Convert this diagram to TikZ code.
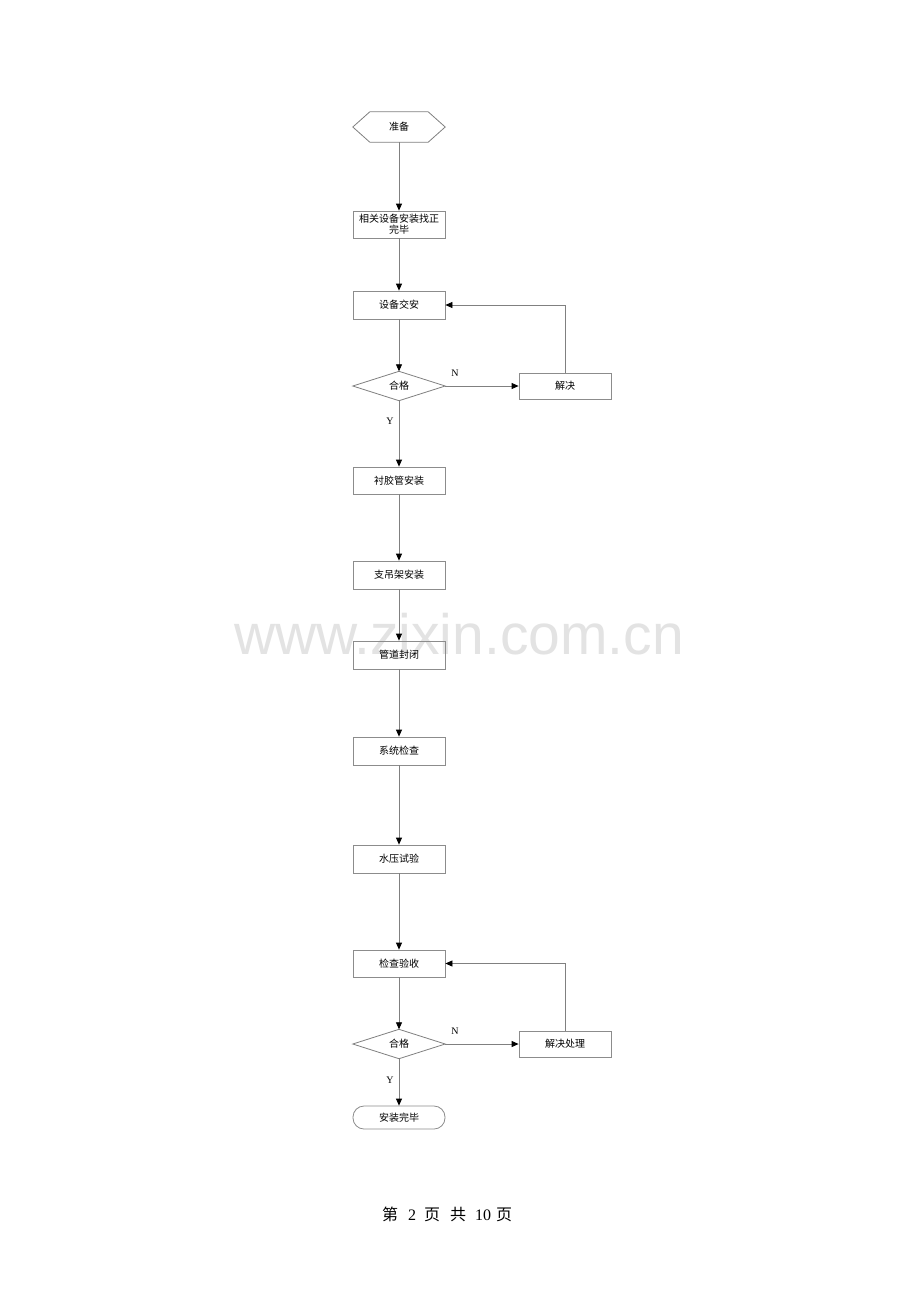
\documentclass[tikz,border=0pt]{standalone}
\usepackage{fontspec}
\setmainfont{Liberation Serif}
\newfontfamily\cjk{Noto Sans CJK SC}
\newfontfamily\wmfont{Liberation Sans}
\usetikzlibrary{arrows.meta}
\begin{document}
\begin{tikzpicture}[x=1pt,y=-1pt,
  line/.style={draw=black!50, line width=0.8pt},
  arr/.style={line, -{Triangle[length=7pt,width=6pt,fill=black,color=black]}},
  box/.style={draw=black!45, line width=0.8pt, minimum width=92pt, minimum height=27pt, inner sep=1pt, font=\cjk\fontsize{10}{11}\selectfont, align=center},
  ghost/.style={minimum width=92pt, minimum height=29pt, inner sep=0pt, font=\cjk\fontsize{10}{11}\selectfont},
  lbl/.style={font=\fontsize{10}{11}\selectfont}
]
\useasboundingbox[fill=white] (0,0) rectangle (920,1302);
% watermark
\node[text=black!11, font=\wmfont\fontsize{57}{60}\selectfont] (wm) at (459,634) {www.zixin.com.cn};

% start hexagon
\node[ghost, minimum height=30pt] (prep) at (399,127) {准备};
\draw[line] (prep.west) -- ([xshift=17pt]prep.north west) -- ([xshift=-17pt]prep.north east) -- (prep.east) -- ([xshift=-17pt]prep.south east) -- ([xshift=17pt]prep.south west) -- cycle;

\node[box] (b1) at (399,224.5) {相关设备安装找正\\完毕};
\node[box, minimum height=28pt] (b2) at (399,305) {设备交安};
\node[ghost] (d1) at (399,386) {合格};
\draw[line] (d1.west) -- (d1.north) -- (d1.east) -- (d1.south) -- cycle;
\node[box, minimum height=26pt] (r1) at (565,386) {解决};

\node[box] (b3) at (399,480.5) {衬胶管安装};
\node[box, minimum height=28pt] (b4) at (399,575) {支吊架安装};
\node[box, minimum height=28pt] (b5) at (399,655) {管道封闭};
\node[box, minimum height=28pt] (b6) at (399,751) {系统检查};
\node[box, minimum height=28pt] (b7) at (399,859) {水压试验};
\node[box] (b8) at (399,963.5) {检查验收};
\node[ghost] (d2) at (399,1044) {合格};
\draw[line] (d2.west) -- (d2.north) -- (d2.east) -- (d2.south) -- cycle;
\node[box, minimum height=26pt] (r2) at (565,1044) {解决处理};
\node[box, minimum height=23pt, rounded corners=11pt] (end) at (399,1117.5) {安装完毕};

% connectors
\draw[arr] (prep) -- (b1);
\draw[arr] (b1) -- (b2);
\draw[arr] (b2) -- (d1);
\draw[arr] (d1.east) -- (r1.west);
\draw[arr] (r1.north) |- (b2.east);
\draw[arr] (d1.south) -- (b3.north);
\draw[arr] (b3) -- (b4);
\draw[arr] (b4) -- (b5);
\draw[arr] (b5) -- (b6);
\draw[arr] (b6) -- (b7);
\draw[arr] (b7) -- (b8);
\draw[arr] (b8) -- (d2.north);
\draw[arr] (d2.east) -- (r2.west);
\draw[arr] (r2.north) |- (b8.east);
\draw[arr] (d2.south) -- (end.north);

% labels
\node[lbl] (n1) at (455,373) {N};
\node[lbl] (y1) at (390,421) {Y};
\node[lbl] (n2) at (455,1031) {N};
\node[lbl] (y2) at (390,1080) {Y};

% footer
\node[font=\fontsize{16}{18}\selectfont] (foot) at (447,1214) {{\cjk 第}\hspace{10pt}2\hspace{8pt}{\cjk 页}\hspace{10pt}{\cjk 共}\hspace{9pt}10\hspace{5pt}{\cjk 页}};
\end{tikzpicture}
\end{document}
